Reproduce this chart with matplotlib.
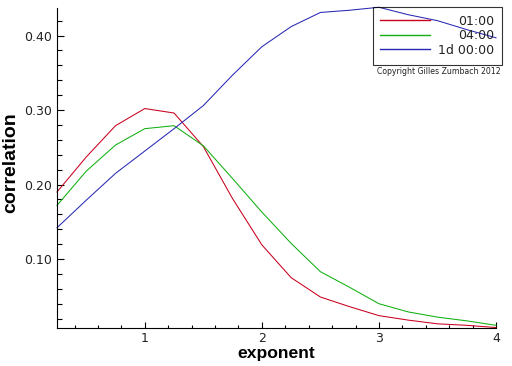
import matplotlib
matplotlib.use("Agg")
import matplotlib.pyplot as plt
from matplotlib.ticker import MultipleLocator, FormatStrFormatter

# data
exponent = [0.25, 0.5, 0.75, 1.0, 1.25, 1.5, 1.75, 2.0, 2.25, 2.5, 2.75, 3.0, 3.25, 3.5, 3.75, 4.0]
corr_1h = [0.190, 0.237, 0.279, 0.302, 0.296, 0.251, 0.181, 0.119, 0.075, 0.049, 0.036, 0.024, 0.018, 0.013, 0.011, 0.008]
corr_4h = [0.172, 0.218, 0.253, 0.275, 0.279, 0.252, 0.208, 0.163, 0.121, 0.083, 0.062, 0.040, 0.029, 0.022, 0.017, 0.011]
corr_1d = [0.142, 0.179, 0.215, 0.245, 0.275, 0.306, 0.347, 0.385, 0.412, 0.431, 0.434, 0.438, 0.428, 0.420, 0.408, 0.397]
labels = ["01:00", "04:00", "1d 00:00"]
colors = ["#c8001e", "#10b010", "#2828b4"]

fig = plt.figure(figsize=(5.12, 3.66), dpi=100)
ax = fig.add_axes([57 / 512, 38 / 366, 439 / 512, 320 / 366])

for y, lab, c in zip([corr_1h, corr_4h, corr_1d], labels, colors):
    ax.plot(exponent, y, color=c, lw=0.75, label=lab, clip_on=False)

ax.set_xlim(0.25, 4.0)
ax.set_ylim(0.0074, 0.437)
ax.xaxis.set_major_locator(MultipleLocator(1))
ax.xaxis.set_minor_locator(MultipleLocator(0.2))
ax.yaxis.set_major_locator(MultipleLocator(0.1))
ax.yaxis.set_minor_locator(MultipleLocator(0.02))
ax.yaxis.set_major_formatter(FormatStrFormatter("%.2f"))

for s in ["top", "right"]:
    ax.spines[s].set_visible(False)
for s in ["left", "bottom"]:
    ax.spines[s].set_linewidth(0.8)

ax.tick_params(axis="both", which="both", direction="in", width=0.8,
               labelsize=9, labelcolor="#222222")
ax.tick_params(axis="y", which="major", length=5, pad=3.5)
ax.tick_params(axis="y", which="minor", length=3.5)
ax.tick_params(axis="x", which="major", length=4.5, pad=3)
ax.tick_params(axis="x", which="minor", length=2.5)

ax.set_xlabel("exponent", family="Liberation Sans", weight="bold", fontsize=12.6)
ax.set_ylabel("correlation", family="Liberation Sans", weight="bold", fontsize=14)
ax.xaxis.set_label_coords(0.5, -0.056)
ax.yaxis.set_label_coords(-0.087, 0.5175)

leg = ax.legend(loc="upper right", bbox_to_anchor=(502 / 512, 1 - 7 / 366),
                bbox_transform=fig.transFigure, borderaxespad=0,
                fancybox=False, edgecolor="black", facecolor="none",
                fontsize=9, handlelength=4.0, handletextpad=0.62,
                borderpad=0.62, labelspacing=0.12)
leg.get_frame().set_linewidth(0.8)
for t in leg.get_texts():
    t.set_color("#222222")
for h, c in zip(leg.legend_handles, colors):
    h.set_color(c)
    h.set_linewidth(1.0)

# right-align legend labels by widening the gap of the shorter ones
fig.canvas.draw()
r = fig.canvas.get_renderer()
widths = [t.get_window_extent(r).width for t in leg.get_texts()]
rows = leg._legend_handle_box.get_children()[0].get_children()
for row, w in zip(rows, widths):
    row.sep += (max(widths) - w) * 72 / fig.dpi

fig.text(501 / 512, 1 - 71.7 / 366, "Copyright Gilles Zumbach 2012",
         ha="right", va="center", fontsize=5.6, color="#222222")

fig.savefig("out.png", dpi=100)
